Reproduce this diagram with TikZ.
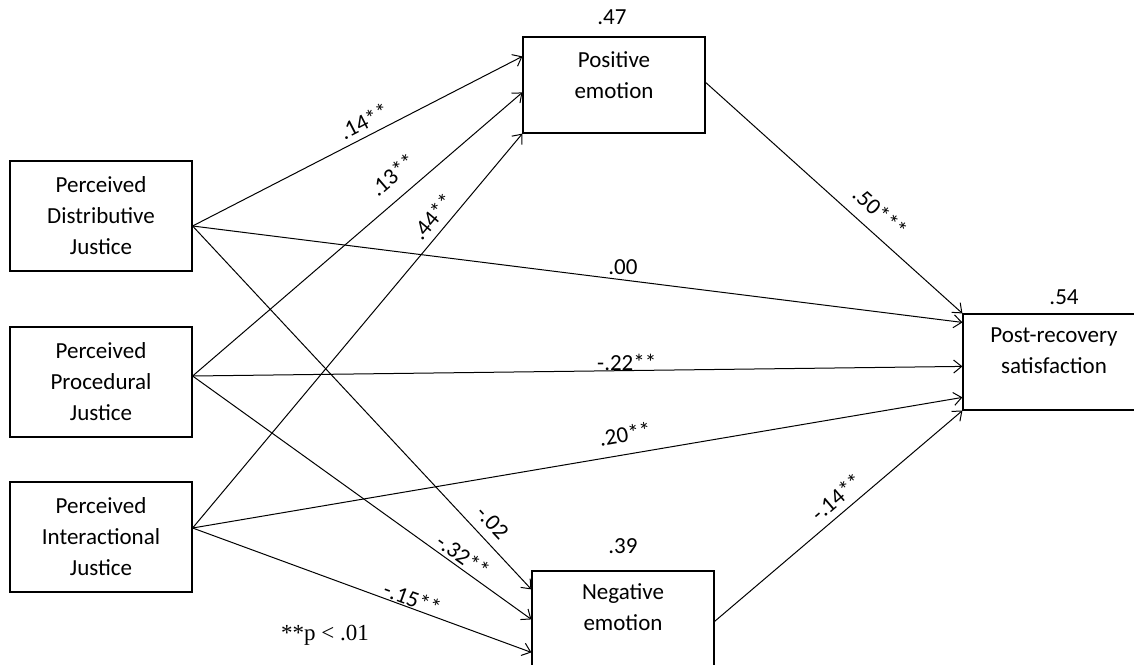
\documentclass[tikz,border=0pt]{standalone}
\usepackage{fontspec}
\setmainfont{Carlito}
\newfontfamily\notefont{Liberation Serif}
\usetikzlibrary{arrows.meta,calc}
\begin{document}
\begin{tikzpicture}[x=1pt,y=-1pt,
  every node/.style={font=\fontsize{23}{31}\selectfont},
  box/.style={draw,line width=1.2pt,minimum width=182pt,inner sep=0pt},
  boxtext/.style={align=center,inner sep=0pt},
  link/.style={draw,line width=1pt,-{Straight Barb[length=8pt,width=13pt,line width=1pt]}},
  coef/.style={inner sep=0pt},
]
\useasboundingbox (0,0) rectangle (1134,664);

% exogenous boxes
\node[box,minimum height=110pt,align=center] (dj) at (101,216) {Perceived\\Distributive\\Justice};
\node[box,minimum height=110pt,align=center] (pj) at (101,382) {Perceived\\Procedural\\Justice};
\node[box,minimum height=110pt,align=center] (ij) at (101,537) {Perceived\\Interactional\\Justice};

% mediators and outcome
\node[box,minimum height=96pt] (pe) at (614,85) {};
\node[boxtext] (pet) at (614,75) {Positive\\emotion};
\node[box,minimum height=96pt] (ne) at (623,619) {};
\node[boxtext] (net) at (623,607) {Negative\\emotion};
\node[box,minimum height=96pt] (ps) at (1054,362) {};
\node[boxtext] (pst) at (1054,351) {Post-recovery\\satisfaction};

% R-squared values
\node (r47) at (612,17) {.47};
\node (r39) at (623,546) {.39};
\node (r54) at (1064,297) {.54};

% ports
\coordinate (dj-o) at ($(dj.east)+(0,10)$);
\coordinate (pj-o) at ($(pj.east)+(0,-6)$);
\coordinate (ij-o) at ($(ij.east)+(0,-9)$);
\coordinate (pe-i1) at ($(pe.north west)+(0,20)$);
\coordinate (pe-i2) at ($(pe.north west)+(0,56)$);
\coordinate (pe-i3) at (pe.south west);
\coordinate (pe-o) at ($(pe.north east)+(0,46)$);
\coordinate (ne-i1) at ($(ne.north west)+(0,19)$);
\coordinate (ne-i2) at ($(ne.north west)+(0,49)$);
\coordinate (ne-i3) at ($(ne.north west)+(0,82)$);
\coordinate (ne-o) at ($(ne.north east)+(0,51)$);
\coordinate (ps-i1) at (ps.north west);
\coordinate (ps-i2) at ($(ps.north west)+(0,9)$);
\coordinate (ps-i3) at ($(ps.north west)+(0,53)$);
\coordinate (ps-i4) at ($(ps.north west)+(0,84)$);
\coordinate (ps-i5) at (ps.south west);

% paths
\draw[link] (dj-o) -- node[coef,sloped,above=6pt,pos=0.54] (l1) {.14**} (pe-i1);
\draw[link] (pj-o) -- node[coef,sloped,above=13.5pt,pos=0.65] (l2) {.13**} (pe-i2);
\draw[link] (ij-o) -- node[coef,sloped,above=7pt,pos=0.764] (l3) {.44**} (pe-i3);
\draw[link] (dj-o) -- node[coef,above=5pt,pos=0.559] (l4) {.00} (ps-i2);
\draw[link] (pj-o) -- node[coef,above=-1pt,pos=0.564] (l5) {-.22**} (ps-i3);
\draw[link] (ij-o) -- node[coef,sloped,above=11.5pt,pos=0.566] (l6) {.20**} (ps-i4);
\draw[link] (dj-o) -- node[coef,sloped,above=9pt,pos=0.848] (l7) {-.02} (ne-i1);
\draw[link] (pj-o) -- node[coef,sloped,above=3pt,pos=0.778] (l8) {-.32**} (ne-i2);
\draw[link] (ij-o) -- node[coef,sloped,above=1pt,pos=0.639] (l9) {-.15**} (ne-i3);
\draw[link] (pe-o) -- node[coef,sloped,above=11.5pt,pos=0.627] (l10) {.50***} (ps-i1);
\draw[link] (ne-o) -- node[coef,sloped,above=7pt,pos=0.533] (l11) {-.14**} (ps-i5);

% note
\node[font=\notefont\fontsize{23}{26}\selectfont] (note) at (325,635) {**p < .01};
\end{tikzpicture}
\end{document}
